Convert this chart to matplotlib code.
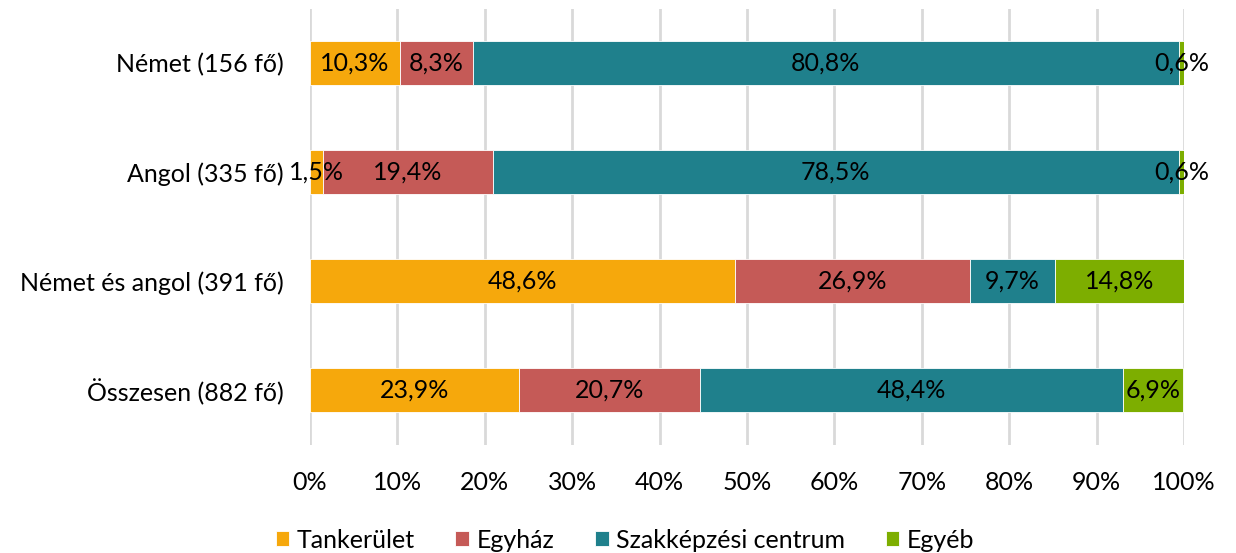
import matplotlib
matplotlib.use("Agg")
import matplotlib.pyplot as plt
import numpy as np

categories = ["Német (156 fő)", "Angol (335 fő)", "Német és angol (391 fő)", "Összesen (882 fő)"]
series_names = ["Tankerület", "Egyház", "Szakképzési centrum", "Egyéb"]
tankerulet = [10.3, 1.5, 48.6, 23.9]
egyhaz = [8.3, 19.4, 26.9, 20.7]
szakkepzesi = [80.8, 78.5, 9.7, 48.4]
egyeb = [0.6, 0.6, 14.8, 6.9]
xticks = [0, 10, 20, 30, 40, 50, 60, 70, 80, 90, 100]

colors = ["#F6A80C", "#C55A57", "#1F808C", "#7DAE00"]
plt.rcParams['font.family'] = ['Lato', 'DejaVu Sans']
FS = 18

fig = plt.figure(figsize=(12.36, 5.53), dpi=100)
ax = fig.add_axes([310/1236, 1-444.5/553, (1184-310)/1236, 436/553])

data = [tankerulet, egyhaz, szakkepzesi, egyeb]
y = np.arange(len(categories))
left = np.zeros(len(categories))
for vals, name, c in zip(data, series_names, colors):
    vals = np.array(vals)
    ax.barh(y, vals, left=left, height=0.4, color=c, label=name,
            edgecolor='white', linewidth=0.6, zorder=3)
    for yi, (l, v) in enumerate(zip(left, vals)):
        ax.text(l + v/2, yi, f"{v:.1f}%".replace('.', ','), ha='center', va='center',
                fontsize=FS, color='black', zorder=4, clip_on=False)
    left = left + vals

ax.set_xlim(0, 100)
ax.set_ylim(len(categories)-0.5, -0.5)
ax.set_yticks(y)
ax.set_yticklabels(categories, fontsize=FS)
ax.set_xticks(xticks)
ax.set_xticklabels([f"{t}%" for t in xticks], fontsize=FS)
ax.tick_params(length=0, pad=19, axis='y')
ax.tick_params(length=0, pad=19, axis='x')
ax.xaxis.grid(True, color='#D9D9D9', linewidth=2, zorder=0)
ax.set_axisbelow(True)
for s in ax.spines.values():
    s.set_visible(False)

fig.legend(loc='center', bbox_to_anchor=(625/1236, 1-540/553), ncol=4, frameon=False,
           fontsize=FS, handlelength=0.55, handleheight=0.55, handletextpad=0.3,
           columnspacing=1.62)

fig.savefig("out.png", dpi=100)
